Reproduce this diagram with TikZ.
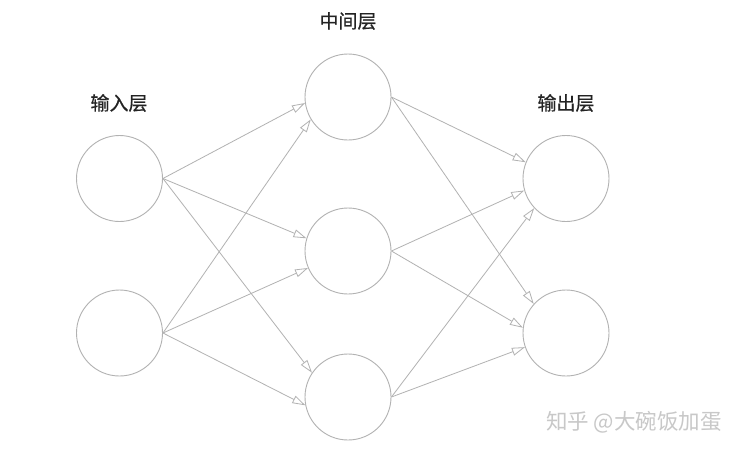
\documentclass[tikz,border=0pt]{standalone}
\usepackage{fontspec}
\newfontfamily\cjk{Noto Sans CJK SC}
\newfontfamily\cjkb[FakeBold=0.6]{Noto Sans CJK SC}
\usetikzlibrary{arrows.meta}
\definecolor{linegray}{RGB}{178,178,178}
\definecolor{textgray}{RGB}{35,35,35}
\definecolor{wmgray}{RGB}{200,200,200}
\begin{document}
\begin{tikzpicture}[x=1pt,y=-1pt,
  neuron/.style={circle,draw=linegray,line width=0.9pt,minimum size=86pt,inner sep=0pt,fill=white},
  layerlabel/.style={font=\cjkb\fontsize{19}{19}\selectfont,text=textgray,inner sep=0pt},
  conn/.style={draw=linegray,line width=0.8pt,-{Triangle[open,length=13pt,width=8pt]}}]
\useasboundingbox (0,0) rectangle (741,451);
\fill[white] (0,0) rectangle (741,451);
% nodes
\node[neuron] (i1) at (119.5,178.5) {};
\node[neuron] (i2) at (119.5,333) {};
\node[neuron] (m1) at (348,97) {};
\node[neuron] (m2) at (348,251) {};
\node[neuron] (m3) at (348,397) {};
\node[neuron] (o1) at (566,178.5) {};
\node[neuron] (o2) at (566,333) {};
% labels
\node[layerlabel] (l1) at (119,103) {输入层};
\node[layerlabel] (l2) at (348,21) {中间层};
\node[layerlabel] (l3) at (566,103) {输出层};
% connections
\draw[conn] (i1.east) -- (m1.188);
\draw[conn] (i2.east) -- (m1.211);
\draw[conn] (i1.east) -- (m2.163);
\draw[conn] (i2.east) -- (m2.203);
\draw[conn] (i1.east) -- (m3.146);
\draw[conn] (i2.east) -- (m3.191);
\draw[conn] (m1.east) -- (o1.158);
\draw[conn] (m2.east) -- (o1.196);
\draw[conn] (m3.east) -- (o1.223);
\draw[conn] (m1.east) -- (o2.138);
\draw[conn] (m2.east) -- (o2.173);
\draw[conn] (m3.east) -- (o2.199);
% watermark
\node[font=\cjk\fontsize{21.5}{21.5}\selectfont,text=wmgray,inner sep=0pt] (wm) at (634,422) {知乎 @大碗饭加蛋};
\end{tikzpicture}
\end{document}
